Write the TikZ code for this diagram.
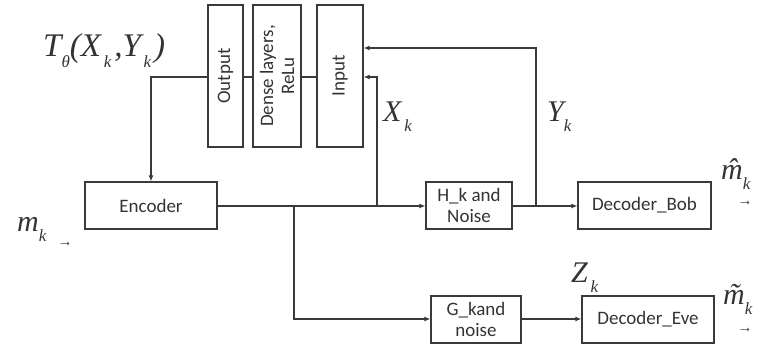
\documentclass[tikz,border=0pt]{standalone}
\usepackage{fontspec}
\setmainfont{Carlito}
\newfontfamily\tms{Liberation Serif}
\usetikzlibrary{arrows.meta}
\definecolor{linec}{HTML}{3A3A3A}
\definecolor{txtc}{HTML}{333333}
\newcommand\lsub[1]{\raisebox{-0.32em}{\fontsize{17}{17}\selectfont #1}}
\newcommand\hatm{\ooalign{m\cr\hidewidth\raisebox{0.02em}{\char"02C6}\hidewidth\cr}}
\newcommand\tildem{\ooalign{m\cr\hidewidth\raisebox{0.0em}{\char"02DC}\hidewidth\cr}}
\begin{document}
\begin{tikzpicture}[x=1pt,y=-1pt,
  box/.style={draw=linec, line width=1.2pt, rectangle, inner sep=0pt, align=center,
    text=txtc, font=\fontsize{19}{20}\selectfont},
  wire/.style={draw=linec, line width=1.2pt},
  arr/.style={wire, -{Latex[length=6pt,width=5pt]}},
  lbl/.style={anchor=base west, inner sep=0pt, text=txtc, font=\tms\itshape\fontsize{30}{30}\selectfont},
  sarr/.style={inner sep=0pt, text=txtc, font=\tms\fontsize{15}{15}\selectfont}]
\useasboundingbox (0,0) rectangle (761,347);
% boxes
\node[box, minimum width=132pt, minimum height=47pt] (enc) at (151,205.5) {Encoder};
\node[box, rotate=90, minimum width=142pt, minimum height=35pt] (out) at (225.5,76) {Output};
\node[box, rotate=90, minimum width=142pt, minimum height=48pt, font=\fontsize{19}{21}\selectfont] (dense) at (277,76) {Dense layers,\\ReLu};
\node[box, rotate=90, minimum width=142pt, minimum height=46pt] (inp) at (340,76) {Input};
\node[box, minimum width=86pt, minimum height=47pt, font=\fontsize{19}{21}\selectfont] (hn) at (469,205.5) {H\_k and\\Noise};
\node[box, minimum width=133pt, minimum height=47pt] (bob) at (644.5,205.5) {Decoder\_Bob};
\node[box, minimum width=90pt, minimum height=47pt, font=\fontsize{19}{21}\selectfont] (gn) at (476,319.5) {G\_kand\\noise};
\node[box, minimum width=132pt, minimum height=47pt] (eve) at (648,319.5) {Decoder\_Eve};
% junctions
\coordinate (b1) at (294,206);
\coordinate (xk) at (377,206);
\coordinate (yk) at (536,206);
% connectors
\draw[wire] (out.south |- 0,77) -- (dense.north |- 0,77);
\draw[wire] (dense.south |- 0,77) -- (inp.north |- 0,77);
\draw[arr] (out.north |- 0,77) -- (151,77) -- (enc.north);
\draw[arr] (enc.east |- b1) -- (hn.west |- b1);
\draw[arr] (b1) |- (gn.west |- 0,319);
\draw[arr] (xk) |- (inp.south |- 0,77);
\draw[arr] (hn.east |- yk) -- (bob.west |- yk);
\draw[arr] (yk) |- (inp.south |- 0,48);
\draw[arr] (gn.east |- 0,319) -- (eve.west |- 0,319);
% labels
\node[lbl, font=\tms\itshape\fontsize{33}{33}\selectfont] (tl) at (43,57) {T\lsub{θ}(X\lsub{\,k\,},Y\lsub{\,k\,})};
\node[lbl] (xl) at (383,122) {X\lsub{\,k}};
\node[lbl] (yl) at (547,122) {Y\lsub{k}};
\node[lbl] (ml) at (17,232) {m\lsub{k}};
\node[sarr] (ma) at (65,244) {→};
\node[lbl] (mh) at (721,180) {\hatm\lsub{k}};
\node[sarr] (mha) at (745,203) {→};
\node[lbl] (zl) at (571,283) {Z\lsub{\,k}};
\node[lbl] (mt) at (723,305) {\tildem\lsub{k}};
\node[sarr] (mta) at (745,330) {→};
\end{tikzpicture}
\end{document}
